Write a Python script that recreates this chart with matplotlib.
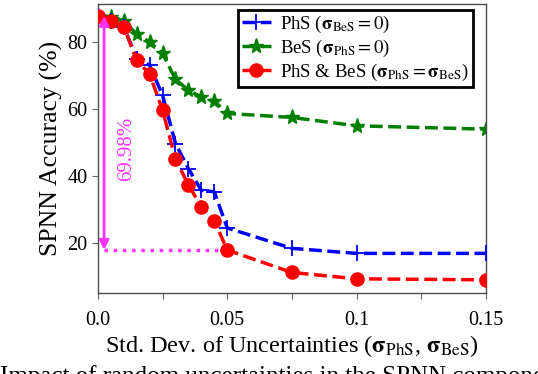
import numpy as np
import matplotlib
matplotlib.use("Agg")
import matplotlib.pyplot as plt

# ---------- data ----------
x_std = [0.0, 0.005, 0.01, 0.015, 0.02, 0.025, 0.03, 0.035, 0.04, 0.045, 0.05, 0.075, 0.1, 0.15]
acc_phs = [87.8, 86.2, 84.5, 75.0, 73.0, 64.0, 49.6, 42.1, 35.6, 35.2, 24.4, 18.3, 16.8, 16.8]
acc_bes = [87.8, 87.5, 86.3, 82.2, 80.0, 76.5, 68.8, 65.5, 63.5, 62.3, 58.6, 57.4, 54.9, 53.9]
acc_both = [87.8, 86.2, 84.5, 74.5, 70.3, 59.6, 44.9, 37.3, 30.6, 26.6, 17.8, 11.1, 9.2, 8.9]
drop_label = "69.98%"

plt.rcParams["font.family"] = ["Liberation Serif", "DejaVu Serif"]
plt.rcParams["mathtext.fontset"] = "stix"

fig = plt.figure(figsize=(5.38, 3.74), dpi=100)
ax = fig.add_axes([0.182, 0.216, 0.721, 0.773])

sig = r"\mathbf{\sigma}"
ax.plot(x_std, acc_phs, "b--+", lw=2.5, ms=12, mew=1.3,
        label=r"PhS ($%s_{\rm BeS} = 0$)" % sig, zorder=3)
ax.plot(x_std, acc_bes, "g--*", lw=2.5, ms=11, label=r"BeS ($%s_{\rm PhS} = 0$)" % sig, zorder=2)
ax.plot(x_std, acc_both, "r--o", lw=2.5, ms=9.5,
        label=r"PhS & BeS ($%s_{\rm PhS} = %s_{\rm BeS}$)" % (sig, sig), zorder=4)

# annotation: accuracy drop
top, bot = acc_both[0], acc_both[10]
ax.annotate("", xy=(0.0024, bot), xytext=(0.0024, top),
            arrowprops=dict(arrowstyle="<|-|>", color="#ff33ff", lw=2, mutation_scale=14,
                            shrinkA=0, shrinkB=0), zorder=5)
ax.plot([0.0024, x_std[10]], [bot, bot], ":", color="#ff33ff", lw=2.5, zorder=1)
ax.text(0.0112, 48, drop_label, color="#ff33ff", rotation=90, fontsize=15, ha="center", va="center")

ax.set_xlim(0, 0.15)
ax.set_ylim(4.9, 91.25)
ax.set_xticks(np.arange(0, 0.151, 0.025))
ax.set_xticklabels(["0.0", "", "0.05", "", "0.1", "", "0.15"])
ax.set_yticks([20, 40, 60, 80])
ax.tick_params(labelsize=14.5, length=4, color="0.4")
ax.tick_params(axis="x", pad=9)
for s in ax.spines.values():
    s.set_color("0.3")
    s.set_linewidth(1.0)

ax.set_xlabel(r"Std. Dev. of Uncertainties ($%s_{\rm PhS}$, $%s_{\rm BeS}$)" % (sig, sig),
              fontsize=17.5, labelpad=2)
ax.set_ylabel("SPNN Accuracy (%)", fontsize=18.5, labelpad=3)

leg = ax.legend(loc="upper right", bbox_to_anchor=(0.966, 0.979), fontsize=13.5, fancybox=False,
                framealpha=1, edgecolor="black", borderpad=0.2, handlelength=1.55,
                handletextpad=0.5, labelspacing=0.15, borderaxespad=0)
leg.get_frame().set_linewidth(2)

fig.text(0.0, 0.024, "Impact of random uncertainties in the SPNN components", fontsize=18,
         va="top", ha="left")

fig.savefig("out.png", dpi=100)
